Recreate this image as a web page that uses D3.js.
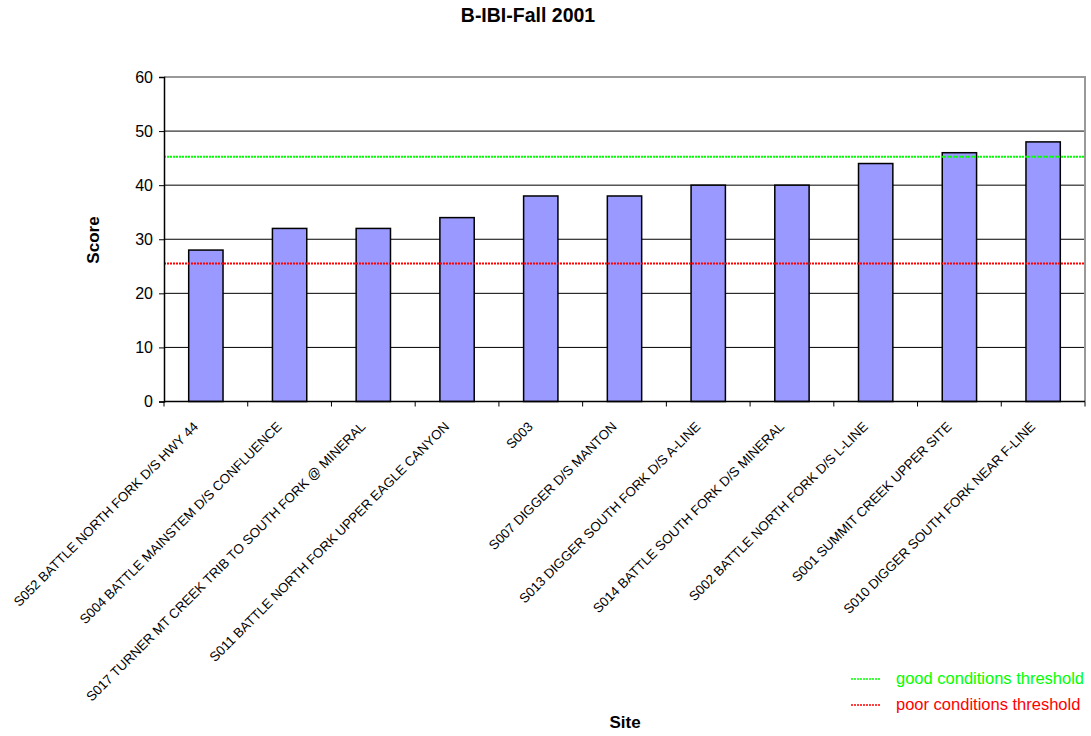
<!DOCTYPE html>
<html>
<head>
<meta charset="utf-8">
<script src="https://cdn.jsdelivr.net/npm/d3@7"></script>
<style>
  body { margin: 0; background: #fff; }
  text { font-family: Arial, "Liberation Sans", sans-serif; }
</style>
</head>
<body>
<svg id="chart" width="1091" height="736"></svg>
<script>
// Sites and their B-IBI scores
const sites = [
  "S052 BATTLE NORTH FORK D/S HWY 44",
  "S004 BATTLE MAINSTEM D/S CONFLUENCE",
  "S017 TURNER MT CREEK TRIB TO SOUTH FORK @ MINERAL",
  "S011 BATTLE NORTH FORK UPPER EAGLE CANYON",
  "S003",
  "S007 DIGGER D/S MANTON",
  "S013 DIGGER SOUTH FORK D/S A-LINE",
  "S014 BATTLE SOUTH FORK D/S MINERAL",
  "S002 BATTLE NORTH FORK D/S L-LINE",
  "S001 SUMMIT CREEK UPPER SITE",
  "S010 DIGGER SOUTH FORK NEAR F-LINE"
];
const scores = [28, 32, 32, 34, 38, 38, 40, 40, 44, 46, 48];
const yTicks = [0, 10, 20, 30, 40, 50, 60];
const thresholdNames = ["good conditions threshold", "poor conditions threshold"];
const thresholdValues = [45.25, 25.5];
const thresholdColors = ["#00ff00", "#ff0000"];

const svg = d3.select("#chart");
const m = { left: 164, top: 77, right: 1085, bottom: 401.5 };

const x = d3.scaleBand().domain(sites).range([m.left, m.right]).paddingInner(0.59).paddingOuter(0.295);
const xb = d3.scaleBand().domain(sites).range([m.left, m.right]);
const y = d3.scaleLinear().domain([0, 60]).range([m.bottom, m.top]);

// Title
svg.append("text").attr("x", 528).attr("y", 22).attr("text-anchor", "middle")
  .attr("font-size", 19.5).attr("font-weight", "bold").text("B-IBI-Fall 2001");

// Gridlines
svg.append("g").selectAll("line").data(yTicks.filter(d => d > 0 && d < 60)).join("line")
  .attr("x1", m.left).attr("x2", m.right).attr("y1", d => y(d)).attr("y2", d => y(d))
  .attr("stroke", "#000").attr("stroke-width", 1);

// Plot frame (top and right edges)
svg.append("path")
  .attr("d", `M${m.left},${y(60)}H${m.right}V${m.bottom}`)
  .attr("fill", "none").attr("stroke", "#999").attr("stroke-width", 2);

// Bars
svg.append("g").selectAll("rect").data(sites).join("rect")
  .attr("x", d => x(d)).attr("width", x.bandwidth())
  .attr("y", (d, i) => y(scores[i])).attr("height", (d, i) => y(0) - y(scores[i]))
  .attr("fill", "#9999ff").attr("stroke", "#000").attr("stroke-width", 1.5);

// Threshold lines
svg.append("g").selectAll("line").data(thresholdValues).join("line")
  .attr("x1", m.left).attr("x2", m.right)
  .attr("y1", d => y(d)).attr("y2", d => y(d))
  .attr("stroke", (d, i) => thresholdColors[i]).attr("stroke-width", 2)
  .attr("stroke-dasharray", "2,1");

// Y axis
const yAxis = svg.append("g").attr("transform", `translate(${m.left},0)`)
  .call(d3.axisLeft(y).tickValues(yTicks).tickSize(5).tickPadding(6));
yAxis.select(".domain").attr("stroke", "#000").attr("stroke-width", 1.5);
yAxis.selectAll(".tick line").attr("stroke", "#000");
yAxis.selectAll(".tick text").attr("font-size", 16).attr("fill", "#000")
  .attr("font-family", "Arial, 'Liberation Sans', sans-serif");

// X axis with ticks at band boundaries
const xAxis = svg.append("g");
xAxis.append("line").attr("x1", m.left).attr("x2", m.right)
  .attr("y1", m.bottom).attr("y2", m.bottom).attr("stroke", "#000").attr("stroke-width", 1.5);
xAxis.selectAll("line.tk").data(sites).join("line").attr("class", "tk")
  .attr("x1", d => xb(d)).attr("x2", d => xb(d))
  .attr("y1", m.bottom).attr("y2", m.bottom + 5).attr("stroke", "#000");
xAxis.append("line").attr("x1", m.right).attr("x2", m.right)
  .attr("y1", m.bottom).attr("y2", m.bottom + 5).attr("stroke", "#000");
xAxis.selectAll("text").data(sites).join("text")
  .attr("transform", d => `translate(${x(d) + x.bandwidth() / 2 - 7},${m.bottom + 26}) rotate(-45)`)
  .attr("text-anchor", "end").attr("font-size", 13.3).text(d => d);

// Axis titles
svg.append("text").attr("transform", `translate(99,240) rotate(-90)`)
  .attr("text-anchor", "middle").attr("font-size", 17).attr("font-weight", "bold").text("Score");
svg.append("text").attr("x", 625).attr("y", 728).attr("text-anchor", "middle")
  .attr("font-size", 17).attr("font-weight", "bold").text("Site");

// Legend
const lg = svg.append("g").selectAll("g").data(thresholdNames).join("g")
  .attr("transform", (d, i) => `translate(851,${679 + i * 26})`);
lg.append("line").attr("x1", 0).attr("x2", 29).attr("stroke", (d, i) => thresholdColors[i])
  .attr("stroke-width", 1.5).attr("stroke-dasharray", "2,1");
lg.append("text").attr("x", 45).attr("y", 5).attr("font-size", 16.5)
  .attr("fill", (d, i) => thresholdColors[i]).text(d => d);
</script>
</body>
</html>
